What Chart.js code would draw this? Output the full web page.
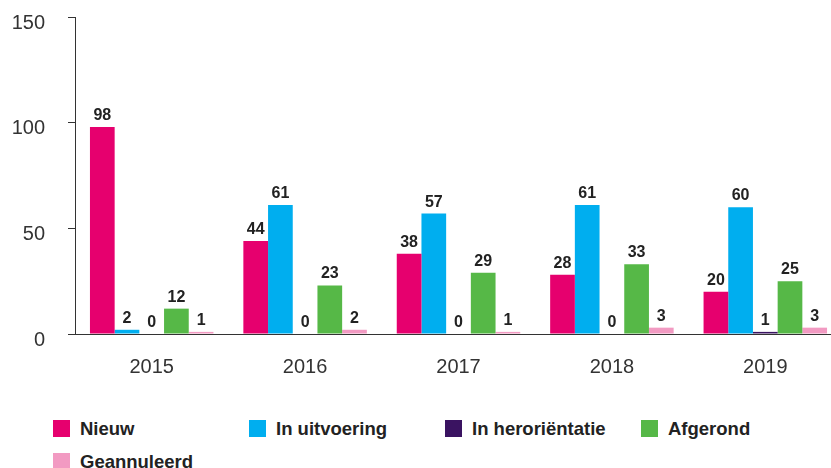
<!DOCTYPE html>
<html>
<head>
<meta charset="utf-8">
<script src="https://cdn.jsdelivr.net/npm/chart.js@4/dist/chart.umd.min.js"></script>
<style>
  html, body { margin: 0; padding: 0; background: #fff; }
  #wrap { position: relative; width: 831px; height: 468px; overflow: hidden; }
  #box { position: absolute; left: 0; top: -18px; width: 842px; height: 418px; }
  #legend { position: absolute; left: 53px; top: 420px; width: 784px; display: flex; flex-wrap: wrap; row-gap: 16px;
    font-family: "Liberation Sans", Arial, sans-serif; font-weight: bold; font-size: 18.5px; color: #222; }
  #legend .item { width: 196px; display: flex; align-items: center; height: 17px; }
  #legend .sw { width: 17px; height: 17px; margin-right: 10px; flex: none; }
</style>
</head>
<body>
<div id="wrap">
  <div id="box"><canvas id="projectChart"></canvas></div>
  <div id="legend"></div>
</div>
<script>
var years = ["2015", "2016", "2017", "2018", "2019"];
var seriesNames = ["Nieuw", "In uitvoering", "In heroriëntatie", "Afgerond", "Geannuleerd"];
var nieuw = [98, 44, 38, 28, 20];
var inUitvoering = [2, 61, 57, 61, 60];
var inHerorientatie = [0, 0, 0, 0, 1];
var afgerond = [12, 23, 29, 33, 25];
var geannuleerd = [1, 2, 1, 3, 3];
var yTicks = [0, 50, 100, 150];

var colors = ["#e6006e", "#00aeef", "#3a1361", "#56b847", "#f29ac2"];
var values = [nieuw, inUitvoering, inHerorientatie, afgerond, geannuleerd];

// value labels above each bar
var barLabels = {
  id: "barLabels",
  afterDatasetsDraw: function (chart) {
    var ctx = chart.ctx;
    ctx.save();
    ctx.font = "bold 16px 'Liberation Sans', Arial, sans-serif";
    ctx.fillStyle = "#222";
    ctx.textAlign = "center";
    ctx.textBaseline = "alphabetic";
    chart.data.datasets.forEach(function (ds, i) {
      chart.getDatasetMeta(i).data.forEach(function (bar, j) {
        ctx.fillText(String(ds.data[j]), bar.x, bar.y - 7);
      });
    });
    ctx.restore();
  }
};

var ctx = document.getElementById("projectChart").getContext("2d");
var projectChart = new Chart(ctx, {
  type: "bar",
  data: {
    labels: years,
    datasets: seriesNames.map(function (name, i) {
      return {
        label: name,
        data: values[i],
        backgroundColor: colors[i],
        borderWidth: 0,
        categoryPercentage: 0.805,
        barPercentage: 1.0
      };
    })
  },
  options: {
    responsive: true,
    maintainAspectRatio: false,
    animation: false,
    layout: { padding: { top: 17, left: 0, right: 0, bottom: 0 } },
    plugins: { legend: { display: false }, tooltip: { enabled: false } },
    scales: {
      x: {
        grid: { display: false, drawTicks: false },
        border: { display: true, color: "#333", width: 1 },
        ticks: {
          padding: 21,
          color: "#333",
          font: { family: "'Liberation Sans', Arial, sans-serif", size: 20 }
        }
      },
      y: {
        min: 0,
        max: 150,
        afterBuildTicks: function (scale) {
          scale.ticks = yTicks.map(function (v) { return { value: v }; });
        },
        afterFit: function (scale) { scale.width = 75; },
        grid: { drawOnChartArea: false, drawTicks: true, tickLength: 7, color: "#333" },
        border: { display: true, color: "#333", width: 1 },
        ticks: {
          padding: 23,
          labelOffset: 6,
          color: "#333",
          font: { family: "'Liberation Sans', Arial, sans-serif", size: 20 }
        }
      }
    }
  },
  plugins: [barLabels]
});

// legend built from the series
var legend = document.getElementById("legend");
seriesNames.forEach(function (name, i) {
  var item = document.createElement("div");
  item.className = "item";
  var sw = document.createElement("span");
  sw.className = "sw";
  sw.style.background = colors[i];
  var txt = document.createElement("span");
  txt.textContent = name;
  item.appendChild(sw);
  item.appendChild(txt);
  legend.appendChild(item);
});
</script>
</body>
</html>
